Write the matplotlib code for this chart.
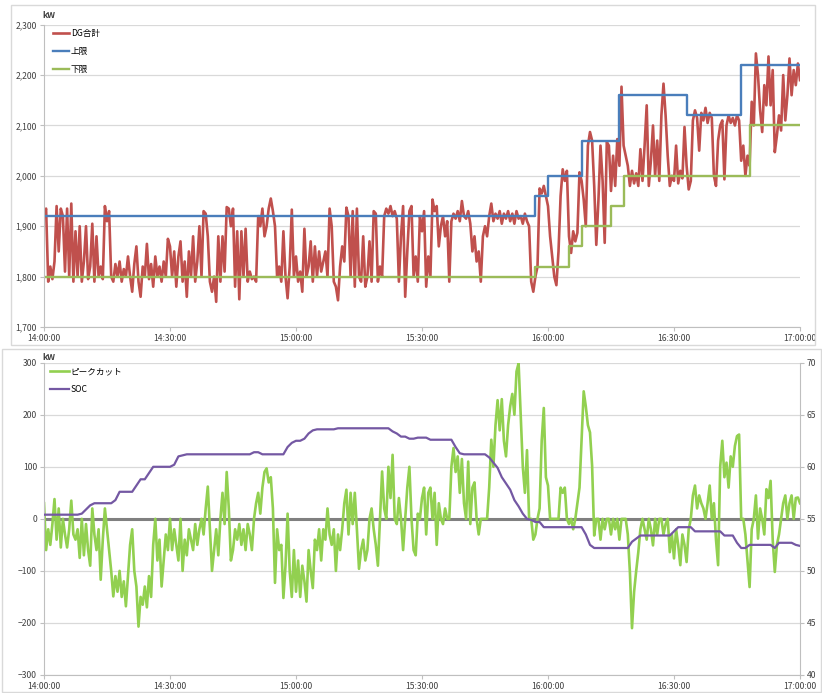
import numpy as np
import matplotlib
matplotlib.use("Agg")
import matplotlib.pyplot as plt
from matplotlib.patches import Rectangle
from matplotlib.ticker import FuncFormatter, MultipleLocator

plt.rcParams["font.family"] = ["Noto Sans CJK JP", "DejaVu Sans"]

# ── Data (minutes after 14:00) ───────────────────────────────────────────────
STEP = 0.5  # logging interval, minutes

# DG total output, kW, every 0.5 min
dg_kw = [
    1925, 1935, 1790, 1820, 1795, 1830, 1940, 1850, 1935, 1920,
    1810, 1935, 1800, 1945, 1790, 1890, 1800, 1900, 1790, 1830,
    1900, 1795, 1820, 1905, 1790, 1880, 1800, 1820, 1795, 1940,
    1910, 1930, 1800, 1790, 1825, 1800, 1830, 1790, 1815, 1800,
    1840, 1800, 1770, 1825, 1860, 1790, 1760, 1820, 1800, 1865,
    1795, 1825, 1780, 1840, 1800, 1820, 1790, 1830, 1800, 1875,
    1860, 1800, 1850, 1780, 1840, 1870, 1790, 1830, 1760, 1850,
    1800, 1880, 1790, 1830, 1900, 1800, 1930, 1925, 1880, 1790,
    1770, 1800, 1750, 1880, 1790, 1880, 1810, 1938, 1935, 1900,
    1935, 1780, 1890, 1755, 1890, 1800, 1895, 1790, 1810, 1795,
    1800, 1790, 1920, 1900, 1935, 1880, 1900, 1935, 1955, 1930,
    1900, 1800, 1820, 1790, 1890, 1800, 1757, 1820, 1933, 1800,
    1840, 1790, 1810, 1770, 1895, 1800, 1820, 1870, 1790, 1860,
    1800, 1850, 1810, 1830, 1850, 1800, 1935, 1900, 1790, 1780,
    1753, 1820, 1860, 1830, 1937, 1920, 1800, 1930, 1780, 1935,
    1800, 1790, 1880, 1780, 1800, 1870, 1790, 1930, 1925, 1790,
    1820, 1800, 1920, 1935, 1925, 1940, 1920, 1930, 1915, 1790,
    1880, 1940, 1760, 1850, 1930, 1940, 1800, 1840, 1790, 1920,
    1890, 1930, 1780, 1840, 1800, 1953, 1930, 1940, 1860, 1900,
    1920, 1880, 1910, 1790, 1910, 1925, 1915, 1930, 1910, 1950,
    1920, 1915, 1930, 1905, 1850, 1880, 1830, 1850, 1790, 1880,
    1900, 1880, 1920, 1945, 1910, 1925, 1915, 1930, 1905, 1925,
    1915, 1930, 1910, 1925, 1905, 1930, 1915, 1920, 1905, 1925,
    1910, 1900, 1790, 1770, 1800, 1820, 1975, 1965, 1980, 1960,
    1940, 1880, 1840, 1800, 1783, 1850, 1960, 2013, 1990, 2010,
    1880, 1847, 1890, 1870, 1887, 2007, 1990, 1953, 1900, 2060,
    2087, 2070, 1980, 1863, 1950, 2060, 1990, 1867, 2067, 2060,
    1970, 2040, 1980, 2073, 2020, 2177, 2060, 2040, 2020, 1980,
    2010, 1985, 2005, 1980, 2053, 1990, 2060, 2140, 1980, 2030,
    2100, 2000, 2070, 1990, 2120, 2183, 2120, 2040, 1980, 2000,
    1990, 2060, 1985, 2010, 1995, 2097, 2020, 1973, 1990, 2110,
    2130, 2115, 2050, 2125, 2110, 2135, 2105, 2125, 2115, 2000,
    1980, 2070, 2100, 2110, 1993, 2100, 2120, 2105, 2115, 2100,
    2120, 2110, 2030, 2060, 2000, 2040, 2020, 2147, 2100, 2243,
    2200, 2130, 2087, 2180, 2140, 2237, 2140, 2210, 2047, 2080,
    2120, 2090, 2200, 2110, 2160, 2233, 2160, 2210, 2180, 2223,
    2190,
]

# control band (step changes)
upper_t = [0, 117, 120, 128, 137, 153, 166, 180]
upper_kw = [1920, 1960, 2000, 2070, 2160, 2120, 2220, 2220]
lower_t = [0, 117, 125, 128, 135, 138, 168, 180]
lower_kw = [1800, 1820, 1860, 1900, 1940, 2000, 2100, 2100]

# battery peak-cut output, kW, every 0.5 min
peak_kw = [
    30, -60, -20, -50, -10, 38, -40, 20, -55, 0,
    -30, -55, -20, 35, -30, -40, -20, -75, 0, -70,
    -10, -60, -90, 20, -30, -60, -20, -117, -40, 20,
    -20, -60, -100, -149, -110, -140, -100, -150, -120, -168,
    -110, -50, -20, -100, -130, -207, -150, -165, -130, -170,
    -110, -150, -50, 0, -80, -40, -130, -80, -30, -60,
    0, -60, -20, -50, -80, 0, -100, -40, -70, -20,
    -40, -60, -10, -50, -20, 0, -30, 20, 62, -20,
    -100, -60, -20, -70, 0, 50, -10, 90, 20, -80,
    -60, -20, -40, -10, -50, -20, -60, -10, -30, -60,
    0, 30, 50, 10, 60, 90, 97, 70, 80, 20,
    -123, -20, -60, -50, -152, -90, 10, -100, -150, -60,
    -140, -80, -150, -90, -120, -159, -60, -100, -133, -40,
    -60, -20, -80, -20, -40, 20, -30, -50, -20, -100,
    -30, -60, -20, 30, 56, -30, 50, -10, 50, -20,
    -96, -60, -40, -80, -60, 0, 20, -20, -50, -90,
    0, 91, 20, 0, 100, 40, 123, 0, -10, 40,
    0, -60, 0, 60, 100, 0, -60, -70, 10, 0,
    40, 60, -30, 50, 60, 0, 50, -50, 30, 0,
    -10, 20, 0, 0, 100, 136, 90, 120, 50, 115,
    30, 0, 110, -10, 60, 70, 0, -30, 0, 0,
    0, 0, 60, 152, 100, 180, 228, 170, 230, 150,
    120, 180, 216, 240, 200, 283, 299, 200, 100, 50,
    132, 0, 0, -40, -30, 0, 20, 150, 213, 80,
    64, 0, 0, 0, 0, 0, 60, 50, 60, 0,
    -10, 0, -20, 0, 30, 60, 153, 245, 216, 180,
    166, 102, -32, 0, 0, -40, 0, -20, 0, 0,
    -30, 0, -20, 0, -40, 0, 0, 0, -30, -102,
    -210, -140, -100, -64, -20, 0, -20, -40, 0, -20,
    -51, 0, -30, 0, 0, -30, -10, 0, -64, -30,
    -76, -20, -50, -89, -30, -50, -83, -20, 0, 45,
    64, 20, 45, 30, 20, 0, 30, 64, 0, 30,
    -40, -89, 100, 150, 80, 108, 60, 120, 100, 140,
    159, 162, 0, 0, -30, -80, -131, -20, 0, 45,
    -38, 20, 0, -30, 57, 40, 73, -40, -102, -50,
    -30, 0, 30, 45, 0, 30, 45, 0, 40, 41,
    30,
]

# state of charge, %, every 1 min
soc_pct = [
    55.4, 55.4, 55.4, 55.4, 55.4, 55.4, 55.4, 55.4, 55.4, 55.5,
    55.9, 56.3, 56.5, 56.5, 56.5, 56.5, 56.5, 56.8, 57.6, 57.6,
    57.6, 57.6, 58.2, 58.8, 58.8, 59.4, 60.0, 60.0, 60.0, 60.0,
    60.0, 60.2, 61.0, 61.1, 61.2, 61.2, 61.2, 61.2, 61.2, 61.2,
    61.2, 61.2, 61.2, 61.2, 61.2, 61.2, 61.2, 61.2, 61.2, 61.2,
    61.4, 61.4, 61.2, 61.2, 61.2, 61.2, 61.2, 61.2, 61.9, 62.3,
    62.5, 62.5, 62.7, 63.2, 63.5, 63.6, 63.6, 63.6, 63.6, 63.6,
    63.7, 63.7, 63.7, 63.7, 63.7, 63.7, 63.7, 63.7, 63.7, 63.7,
    63.7, 63.7, 63.7, 63.4, 63.2, 62.9, 62.9, 62.7, 62.7, 62.8,
    62.8, 62.8, 62.6, 62.6, 62.6, 62.6, 62.6, 62.6, 61.9, 61.3,
    61.2, 61.2, 61.2, 61.2, 61.2, 61.2, 60.9, 60.4, 59.9, 59.0,
    58.4, 57.8, 56.8, 56.2, 55.5, 55.0, 54.9, 54.7, 54.7, 54.2,
    54.2, 54.2, 54.2, 54.2, 54.2, 54.2, 54.2, 54.2, 54.2, 53.5,
    52.5, 52.2, 52.2, 52.2, 52.2, 52.2, 52.2, 52.2, 52.2, 52.2,
    52.8, 53.1, 53.4, 53.4, 53.4, 53.4, 53.4, 53.4, 53.4, 53.4,
    53.8, 54.2, 54.2, 54.2, 54.2, 53.8, 53.8, 53.8, 53.8, 53.8,
    53.8, 53.8, 53.4, 53.4, 53.4, 52.7, 52.2, 52.2, 52.5, 52.5,
    52.5, 52.5, 52.5, 52.5, 52.2, 52.7, 52.7, 52.7, 52.7, 52.5,
    52.4,
]

dg_t = np.arange(len(dg_kw)) * STEP
peak_t = np.arange(len(peak_kw)) * STEP
soc_t = np.arange(len(soc_pct)) * 1.0

# ── Style ────────────────────────────────────────────────────────────────────
C_DG = "#c0504d"
C_UP = "#4a7ebb"
C_LO = "#9bbb59"
C_PEAK = "#92d050"
C_SOC = "#7458a3"
C_ZERO = "#808080"
C_GRID = "#d9d9d9"
C_TXT = "#404040"
FS = 6.2

W, H = 822, 693


def fig_box(x0, y0, x1, y1):
    return [x0 / W, 1 - y1 / H, (x1 - x0) / W, (y1 - y0) / H]


def hhmmss(v, pos=None):
    m = int(round(v))
    return f"{14 + m // 60}:{m % 60:02d}:00"


def style_axes(ax):
    for s in ("top", "right"):
        ax.spines[s].set_visible(False)
    for s in ("left", "bottom"):
        ax.spines[s].set_color("#bfbfbf")
        ax.spines[s].set_linewidth(0.8)
    ax.grid(axis="y", color=C_GRID, lw=0.9)
    ax.set_axisbelow(True)
    ax.tick_params(labelsize=FS, colors="#bfbfbf", labelcolor=C_TXT,
                   length=3, width=0.8, pad=2)
    ax.set_xlim(0, 180)
    ax.xaxis.set_major_locator(MultipleLocator(30))
    ax.xaxis.set_major_formatter(FuncFormatter(hhmmss))


fig = plt.figure(figsize=(W / 100, H / 100), dpi=100)

# chart frames
for (x0, y0, x1, y1) in [(11, 5, 815, 345), (2, 349, 821, 692)]:
    fig.add_artist(Rectangle((x0 / W, 1 - y1 / H), (x1 - x0) / W, (y1 - y0) / H,
                             transform=fig.transFigure, fill=False,
                             edgecolor=C_GRID, lw=1))

# ── Upper chart: DG output vs band ───────────────────────────────────────────
ax1 = fig.add_axes(fig_box(44, 24.7, 800, 327))
style_axes(ax1)
ax1.plot(dg_t, dg_kw, color=C_DG, lw=1.9, label="DG合計")
ax1.plot(upper_t, upper_kw, color=C_UP, lw=1.7, drawstyle="steps-post", label="上限")
ax1.plot(lower_t, lower_kw, color=C_LO, lw=1.7, drawstyle="steps-post", label="下限")
ax1.set_ylim(1700, 2300)
ax1.yaxis.set_major_locator(MultipleLocator(100))
ax1.yaxis.set_major_formatter(FuncFormatter(lambda v, p: f"{v:,.0f}"))
ax1.legend(loc="upper left", bbox_to_anchor=(0.012, 0.985), frameon=False,
           fontsize=FS, handlelength=1.9, handletextpad=0.15,
           labelspacing=1.05, borderpad=0, borderaxespad=0)
fig.text(42 / W, 1 - 15 / H, "kW", fontsize=FS, fontweight="bold",
         color=C_TXT, va="center", ha="left")

# ── Lower chart: peak cut and SOC ────────────────────────────────────────────
ax2 = fig.add_axes(fig_box(44, 362.7, 800, 675))
style_axes(ax2)
ax2.axhline(0, color=C_ZERO, lw=2.2, zorder=1.5)
ax2.plot(peak_t, peak_kw, color=C_PEAK, lw=1.9, label="ピークカット", zorder=2)
ax2.set_ylim(-300, 300)
ax2.yaxis.set_major_locator(MultipleLocator(100))

ax3 = ax2.twinx()
ax3.plot(soc_t, soc_pct, color=C_SOC, lw=1.6, label="SOC")
ax3.set_ylim(40, 70)
ax3.yaxis.set_major_locator(MultipleLocator(5))
for s in ("top", "left", "bottom"):
    ax3.spines[s].set_visible(False)
ax3.spines["right"].set_color("#bfbfbf")
ax3.spines["right"].set_linewidth(0.8)
ax3.tick_params(labelsize=FS, colors="#bfbfbf", labelcolor=C_TXT,
                length=3, width=0.8, pad=2)

h2, l2 = ax2.get_legend_handles_labels()
h3, l3 = ax3.get_legend_handles_labels()
ax3.legend(h2 + h3, l2 + l3, loc="upper left", bbox_to_anchor=(0.008, 0.985),
           frameon=False, fontsize=FS, handlelength=2.2, handletextpad=0.15,
           labelspacing=1.05, borderpad=0, borderaxespad=0)
fig.text(42 / W, 1 - 358 / H, "kW", fontsize=FS, fontweight="bold",
         color=C_TXT, va="center", ha="left")

fig.savefig("out.png", dpi=100)
